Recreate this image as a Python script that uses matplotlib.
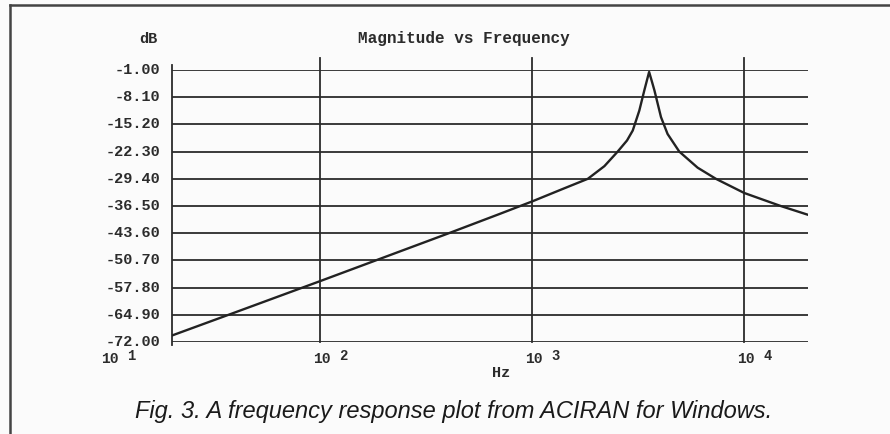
import matplotlib
matplotlib.use("Agg")
import matplotlib.pyplot as plt

# magnitude response
freq_hz = [20, 40, 100, 200, 400, 700, 1000, 1400, 1830, 2190, 2530,
           2800, 2980, 3200, 3380, 3480, 3560, 3660, 3770, 4050, 4350,
           4940, 6030, 7350, 10000, 14860, 20000]
mag_db = [-70.3, -64.2, -56.1, -49.9, -43.7, -38.6, -35.3, -32.0, -29.4,
          -26.1, -22.3, -19.4, -16.8, -11.6, -6.3, -3.6, -1.5, -3.8, -6.3,
          -13.3, -17.7, -22.3, -26.5, -29.4, -33.1, -36.5, -38.8]

y_ticks = [-1.00, -8.10, -15.20, -22.30, -29.40, -36.50, -43.60, -50.70,
           -57.80, -64.90, -72.00]
x_decades = [10, 100, 1000, 10000]
x_exponents = ["1", "2", "3", "4"]

caption = "Fig. 3. A frequency response plot from ACIRAN for Windows."

INK = "#2b2b2b"
MONO = "Liberation Mono"


def main():
    fig = plt.figure(figsize=(8.9, 4.35), dpi=100, facecolor="#fbfbfb")
    ax = fig.add_axes([0.1933, 0.2115, 0.7146, 0.6253])
    ax.set_facecolor("none")
    ax.set_xscale("log")
    ax.set_xlim(20, 20000)
    ax.set_ylim(-72, -1)
    for s in ax.spines.values():
        s.set_visible(False)
    ax.set_xticks([])
    ax.set_yticks([])
    ax.minorticks_off()

    # horizontal grid, one line per dB label
    for v in y_ticks:
        ax.axhline(v, color=INK, lw=1.3, zorder=1)
        ax.annotate("%.2f" % v, xy=(0, v), xycoords=("axes fraction", "data"),
                    xytext=(-12, 1), textcoords="offset pixels",
                    ha="right", va="center", fontsize=11,
                    family=MONO, weight="bold", color=INK)

    # left axis and decade lines stick out above the top line
    ax.axvline(20, ymin=-0.012, ymax=1.02, color=INK, lw=1.3, clip_on=False)
    for f in x_decades[1:]:
        ax.axvline(f, ymin=0, ymax=1.045, color=INK, lw=1.3, clip_on=False)

    # "10 n" labels, the first one sits left of the axis at its true spot
    for f, e in zip(x_decades, x_exponents):
        ax.annotate("10", xy=(f, 0), xycoords=("data", "axes fraction"),
                    xytext=(-7, -16), textcoords="offset pixels",
                    ha="left", va="center", fontsize=10.5, family=MONO,
                    weight="bold", color=INK, annotation_clip=False)
        ax.annotate(e, xy=(f, 0), xycoords=("data", "axes fraction"),
                    xytext=(19, -13), textcoords="offset pixels",
                    ha="left", va="center", fontsize=10, family=MONO,
                    weight="bold", color=INK, annotation_clip=False)

    ax.plot(freq_hz, mag_db, color="#222222", lw=1.7, zorder=3)

    fig.text(464 / 890, 1 - 38 / 435, "Magnitude vs Frequency",
             ha="center", va="center", fontsize=11.5, family=MONO,
             weight="bold", color=INK)
    fig.text(148 / 890, 1 - 39 / 435, "dB", ha="center", va="center",
             fontsize=11, family=MONO, weight="bold", color=INK)
    fig.text(501 / 890, 1 - 373 / 435, "Hz", ha="center", va="center",
             fontsize=11, family=MONO, weight="bold", color=INK)
    fig.text(454 / 890, 1 - 412 / 435, caption, ha="center", va="center",
             fontsize=17, family="Liberation Sans", style="italic",
             color="#1a1a1a")

    # frame around the figure (left and top edges)
    fig.add_artist(plt.Line2D([10 / 890, 10 / 890], [0, 1 - 6 / 435],
                              transform=fig.transFigure, color="#444444", lw=1.8))
    fig.add_artist(plt.Line2D([10 / 890, 1], [1 - 6 / 435, 1 - 6 / 435],
                              transform=fig.transFigure, color="#444444", lw=1.8))

    fig.savefig("out.png", dpi=100, facecolor=fig.get_facecolor())


if __name__ == "__main__":
    main()
